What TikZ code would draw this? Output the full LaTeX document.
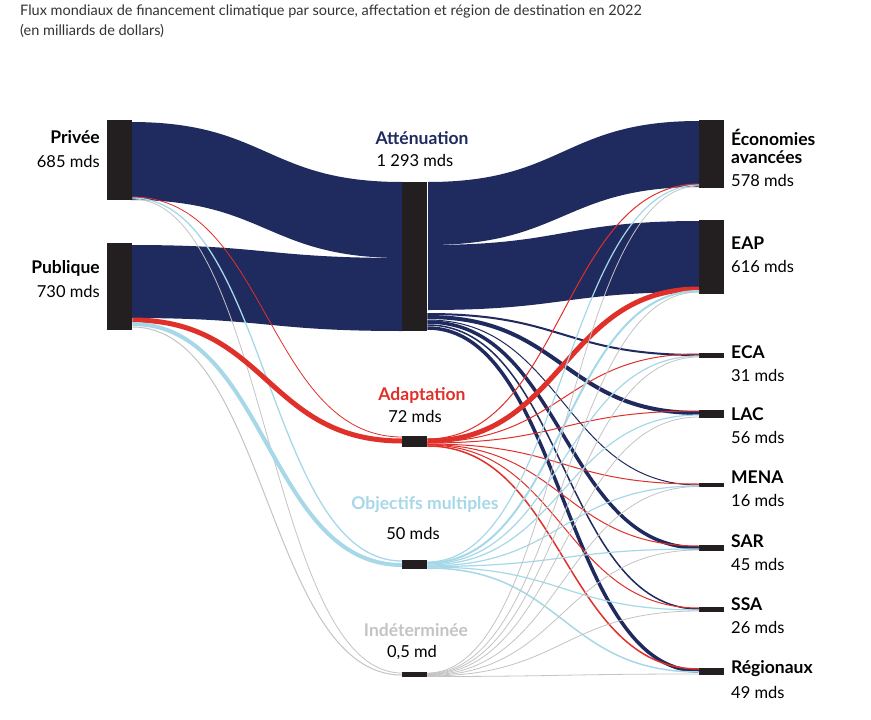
\documentclass[tikz,border=0pt]{standalone}
\usepackage{fontspec}
\setmainfont{Lato}
\usetikzlibrary{calc}
\definecolor{navy}{HTML}{1F2A5E}
\definecolor{rd}{HTML}{E0302A}
\definecolor{lb}{HTML}{A6D8E8}
\definecolor{gr}{HTML}{C4C4C4}
\definecolor{barc}{HTML}{231F20}
\newcommand{\band}[7]{% color x1 t1 b1 x2 t2 b2
 \fill[#1] (#2,#3) .. controls ({(#2+#5)/2},#3) and ({(#2+#5)/2},#6) .. (#5,#6) -- (#5,#7) .. controls ({(#2+#5)/2},#7) and ({(#2+#5)/2},#4) .. (#2,#4) -- cycle;}
\newcommand{\lnk}[6]{% color width node1 off1 node2 off2
 \draw[#1,line width=#2pt] let \p1=([yshift=-#4pt]#3.north east), \p2=([yshift=-#6pt]#5.north west) in (\p1) .. controls ({0.5*\x1+0.5*\x2},\y1) and ({0.5*\x1+0.5*\x2},\y2) .. (\p2);}
\begin{document}
\begin{tikzpicture}[x=1pt,y=-1pt,
 bar/.style={fill=barc,draw=none,inner sep=0,minimum width=25pt,anchor=north west},
 lab/.style={font=\fontsize{17.5}{18}\selectfont\bfseries,inner sep=0},
 val/.style={font=\fontsize{16.5}{17}\selectfont,inner sep=0}]
\useasboundingbox[fill=white] (0,0) rectangle (871,720);
\node[anchor=north west,align=left,font=\fontsize{14.5}{20}\selectfont,text=black!80,inner sep=0] (title) at (20,5) {Flux mondiaux de financement climatique par source, affectation et région de destination en 2022\\(en milliards de dollars)};
% bands
\band{navy}{131}{122}{200}{402}{182}{258}
\band{navy}{131}{245}{318}{402}{258}{331}
\band{navy}{428}{182}{245}{699}{121}{187}
\band{navy}{428}{245}{310}{699}{221}{292}
% bars
\node[bar,minimum height=80pt] (priv) at (107,120) {};
\node[bar,minimum height=87pt] (pub) at (107,243) {};
\node[bar,minimum height=149pt] (att) at (402,182) {};
\node[bar,minimum height=11pt] (ada) at (402,436) {};
\node[bar,minimum height=9pt] (obj) at (402,560) {};
\node[bar,minimum height=5pt] (ind) at (402,672) {};
\node[bar,minimum height=68pt] (ea) at (699,120) {};
\node[bar,minimum height=74pt] (eap) at (699,220) {};
\node[bar,minimum height=5pt] (eca) at (699,353) {};
\node[bar,minimum height=8pt] (lac) at (699,410) {};
\node[bar,minimum height=4pt] (mena) at (699,483) {};
\node[bar,minimum height=6pt] (sar) at (699,545) {};
\node[bar,minimum height=5pt] (ssa) at (699,607) {};
\node[bar,minimum height=7pt] (reg) at (699,668) {};
% source links
\lnk{rd}{0.8}{priv}{77}{ada}{1}
\lnk{lb}{1.3}{priv}{78}{obj}{1}
\lnk{gr}{0.8}{priv}{79}{ind}{1}
\lnk{rd}{5}{pub}{77}{ada}{5}
\lnk{lb}{4}{pub}{81}{obj}{5}
\lnk{gr}{1}{pub}{84}{ind}{3}
% attenuation to small regions
\lnk{navy}{2}{att}{132}{eca}{2}
\lnk{navy}{4}{att}{135}{lac}{3}
\lnk{navy}{1}{att}{138}{mena}{2}
\lnk{navy}{3.5}{att}{140}{sar}{3}
\lnk{navy}{1.5}{att}{143}{ssa}{2}
\lnk{navy}{3.5}{att}{146}{reg}{3}
% adaptation
\lnk{rd}{1}{ada}{3}{ea}{64}
\lnk{rd}{5}{ada}{5}{eap}{69}
\lnk{rd}{1}{ada}{6}{eca}{1}
\lnk{rd}{1}{ada}{7}{lac}{1}
\lnk{rd}{1}{ada}{8}{mena}{1}
\lnk{rd}{1}{ada}{8.5}{sar}{1}
\lnk{rd}{1}{ada}{9}{ssa}{1}
\lnk{rd}{1.5}{ada}{10}{reg}{1}
% objectifs multiples
\lnk{lb}{1.2}{obj}{2}{ea}{65}
\lnk{lb}{2}{obj}{3}{eap}{71}
\lnk{lb}{1.2}{obj}{4}{eca}{3}
\lnk{lb}{1.2}{obj}{5}{lac}{5}
\lnk{lb}{1.2}{obj}{6}{mena}{3}
\lnk{lb}{1.2}{obj}{6.5}{sar}{4}
\lnk{lb}{1.2}{obj}{7}{ssa}{3}
\lnk{lb}{1.5}{obj}{8}{reg}{4}
% indeterminee
\lnk{gr}{0.8}{ind}{1}{ea}{66}
\lnk{gr}{0.8}{ind}{1.5}{eap}{72}
\lnk{gr}{0.8}{ind}{2}{eca}{4}
\lnk{gr}{0.8}{ind}{2.5}{lac}{7}
\lnk{gr}{0.8}{ind}{3}{mena}{3.5}
\lnk{gr}{0.8}{ind}{3.5}{sar}{5}
\lnk{gr}{0.8}{ind}{4}{ssa}{4}
\lnk{gr}{0.8}{ind}{4.5}{reg}{6}
% labels
\node[lab,anchor=east] (lpriv) at (100,137) {Privée};
\node[val,anchor=east] (vpriv) at (100,161) {685 mds};
\node[lab,anchor=east] (lpub) at (100,268) {Publique};
\node[val,anchor=east] (vpub) at (100,291) {730 mds};
\node[lab,text=navy] (latt) at (422,138) {Atténuation};
\node[val] (vatt) at (415,160) {1 293 mds};
\node[lab,text=rd] (lada) at (422,395) {Adaptation};
\node[val] (vada) at (415,416) {72 mds};
\node[lab,text=lb] (lobj) at (425,505) {Objectifs multiples};
\node[val] (vobj) at (413,533) {50 mds};
\node[lab,text=gr] (lind) at (416,630) {Indéterminée};
\node[val] (vind) at (412,653) {0,5 md};
\node[lab,anchor=west] (lea) at (731,137) {Économies};
\node[lab,anchor=west] (lea2) at (731,157) {avancées};
\node[val,anchor=west] (vea) at (731,180) {578 mds};
\foreach \n/\l/\v/\y in {eap/EAP/616 mds/243,eca/ECA/31 mds/352,lac/LAC/56 mds/414,mena/MENA/16 mds/477,sar/SAR/45 mds/541,ssa/SSA/26 mds/604,reg/Régionaux/49 mds/669}{
 \node[lab,anchor=west] (l\n) at (731,\y) {\l};
 \node[val,anchor=west] (v\n) at (731,\y+23) {\v};
}
\end{tikzpicture}
\end{document}
